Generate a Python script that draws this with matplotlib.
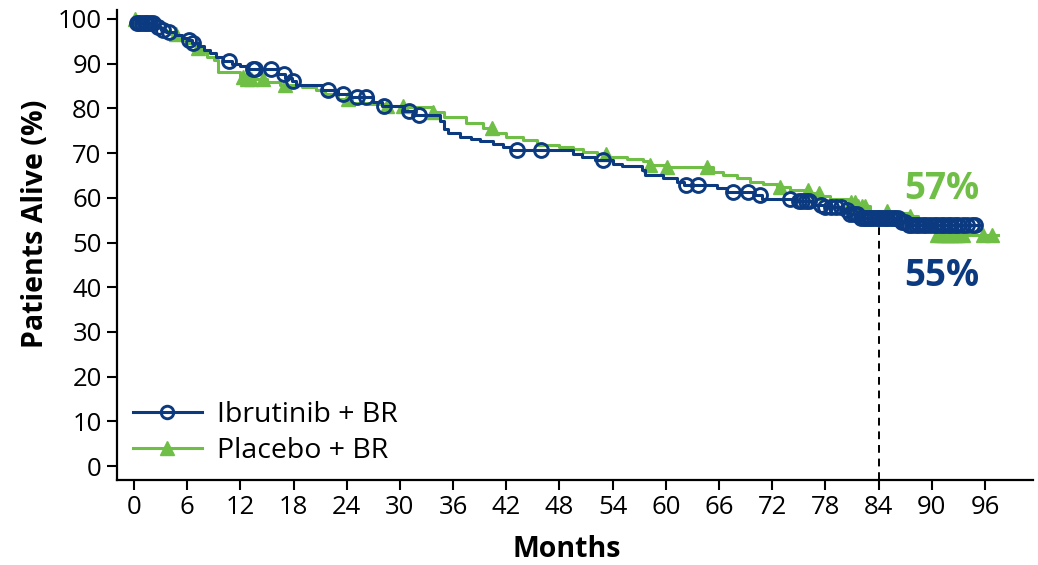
import numpy as np
import matplotlib
matplotlib.use("Agg")
import matplotlib.pyplot as plt
from matplotlib.lines import Line2D

plt.rcParams['font.family'] = ['Open Sans', 'DejaVu Sans']

BLUE = '#0b3a80'
GREEN = '#6fbe46'

# Kaplan-Meier steps: event time (months) and survival (%) after the step
ibr_time = [0, 0.3, 2.3, 3.0, 3.6, 4.6, 5.4, 6.0, 6.5, 7.2, 7.9, 8.6, 9.3, 10.0,
            11.0, 12.0, 12.8, 16.2, 17.0, 17.8, 18.3, 21.2, 23.0, 24.5, 27.0,
            28.0, 30.5, 31.6, 34.5, 35.0, 35.4, 36.8, 38.0, 39.0, 40.5, 41.6,
            42.5, 49.5, 50.5, 52.0, 54.0, 55.1, 57.3, 57.6, 59.7, 61.3, 62.0,
            65.8, 66.9, 70.0, 70.8, 74.5, 76.5, 78.0, 80.0, 80.8, 82.0, 86.5,
            87.3, 95.4]
ibr_surv = [100, 99.0, 98.3, 97.6, 97.0, 96.4, 95.8, 95.2, 94.6, 93.9, 93.1, 92.3,
            91.5, 90.6, 90.0, 89.4, 88.7, 87.8, 86.9, 86.2, 85.2, 84.1, 83.3,
            82.6, 81.5, 80.6, 79.4, 78.5, 77.2, 75.5, 74.5, 73.7, 73.2, 72.6,
            72.0, 71.3, 70.7, 69.9, 69.2, 68.5, 67.6, 67.2, 66.2, 65.2, 64.4,
            63.5, 62.9, 62.2, 61.3, 60.6, 59.8, 59.3, 58.5, 57.9, 57.2, 56.3,
            55.4, 54.6, 53.9, 53.9]

pbo_time = [0, 0.5, 1.5, 2.5, 3.3, 4.0, 4.8, 6.0, 7.0, 7.6, 8.2, 9.0, 9.5, 12.0,
            12.6, 15.0, 16.5, 19.0, 20.5, 21.5, 23.0, 24.6, 26.5, 28.5, 31.0,
            33.7, 35.0, 37.5, 39.4, 40.5, 42.0, 43.9, 45.5, 48.0, 49.5, 50.6,
            52.2, 53.5, 55.6, 57.4, 58.0, 60.0, 65.3, 66.4, 68.0, 69.5, 71.0,
            72.5, 74.0, 76.3, 77.4, 78.5, 80.8, 81.5, 83.0, 85.3, 87.5, 88.5,
            89.5, 90.5, 97.5]
pbo_surv = [100, 99.3, 98.6, 98.0, 97.3, 96.6, 95.3, 94.6, 93.4, 92.5, 91.6, 90.8,
            88.2, 87.0, 86.5, 86.0, 85.3, 84.8, 84.1, 83.2, 82.0, 81.3, 81.0,
            80.6, 80.2, 79.2, 78.0, 76.7, 75.6, 74.5, 73.6, 72.9, 71.8, 71.4,
            71.0, 70.2, 69.8, 69.2, 68.7, 68.2, 67.4, 66.8, 65.8, 65.1, 64.4,
            63.6, 63.2, 62.4, 61.7, 61.1, 60.3, 59.8, 59.0, 58.2, 57.0, 56.6,
            56.0, 54.5, 53.0, 51.8, 51.8]

# censoring times (months)
ibr_cens = [0.3, 0.6, 0.9, 1.2, 1.5, 1.8, 2.1, 2.7, 3.3, 4.0, 6.2, 6.7, 10.7,
            13.4, 13.7, 15.5, 16.9, 17.9, 21.9, 23.6, 25.2, 26.2, 28.2, 31.0,
            32.1, 43.2, 45.9, 52.9, 62.3, 63.6, 67.6, 69.3, 70.6, 74.0, 75.0,
            75.4, 75.8, 76.2, 77.5, 78.0, 78.6, 79.2, 79.8, 80.4, 80.8, 81.2,
            81.6, 82.0, 82.3, 82.6, 82.9, 83.2, 83.5, 83.8, 84.1, 84.4, 84.7,
            85.0, 85.3, 85.6, 85.9, 86.2, 86.6, 87.0, 87.4, 87.8, 88.2, 88.6,
            89.0, 89.4, 89.8, 90.2, 90.6, 91.0, 91.4, 91.8, 92.2, 92.6, 93.0,
            93.5, 94.0, 94.5, 94.9]
pbo_cens = [0.1, 4.7, 7.2, 12.3, 12.8, 13.2, 14.6, 17.0, 24.1, 28.5, 30.3, 33.7,
            40.4, 53.3, 58.2, 60.1, 64.6, 72.9, 76.0, 77.3, 80.9, 81.3, 81.7,
            82.1, 82.5, 84.9, 87.5, 90.6, 91.0, 91.4, 91.8, 92.2, 92.6, 93.0,
            93.5, 95.8, 96.8]

landmark = 84
ibr_label = '55%'
pbo_label = '57%'


def surv_at(times, surv, t):
    idx = np.searchsorted(times, t, side='right') - 1
    return np.asarray(surv)[idx]


fig = plt.figure(figsize=(10.38, 5.65), dpi=100)
ax = fig.add_axes([0.1127, 0.1504, 0.8823, 0.8319])

ax.step(pbo_time, pbo_surv, where='post', color=GREEN, lw=2.2, zorder=2)
ax.plot(pbo_cens, surv_at(pbo_time, pbo_surv, pbo_cens), ls='none', marker='^',
        ms=10, color=GREEN, mec=GREEN, zorder=2)

ax.step(ibr_time, ibr_surv, where='post', color=BLUE, lw=2.2, zorder=3)
ax.plot(ibr_cens, surv_at(ibr_time, ibr_surv, ibr_cens), ls='none', marker='o',
        ms=10, mfc='none', mec=BLUE, mew=2.1, zorder=3)

ax.plot([landmark, landmark], [-3.1, surv_at(pbo_time, pbo_surv, landmark)],
        color='black', ls=(0, (4, 3)), lw=1.4, zorder=1)

ax.text(86.9, 62.0, pbo_label, color=GREEN, fontsize=26.5, fontweight='bold',
        ha='left', va='center')
ax.text(86.9, 42.5, ibr_label, color=BLUE, fontsize=26.5, fontweight='bold',
        ha='left', va='center')

ax.set_xlim(-1.92, 101.4)
ax.set_ylim(-3.1, 102.0)
ax.set_xticks(np.arange(0, 97, 6))
ax.set_yticks(np.arange(0, 101, 10))
ax.spines['top'].set_visible(False)
ax.spines['right'].set_visible(False)
for s in ('left', 'bottom'):
    ax.spines[s].set_linewidth(1.6)
ax.tick_params(axis='both', length=7, width=1.5, labelsize=18.5, pad=4)

ax.set_xlabel('Months', fontsize=20.5, fontweight='bold')
ax.set_ylabel('Patients Alive (%)', fontsize=20.5, fontweight='bold')
ax.xaxis.set_label_coords(0.491, -0.118)
ax.yaxis.set_label_coords(-0.073, 0.545)

handles = [
    Line2D([], [], color=BLUE, lw=2.2, marker='o', ms=9, mfc='none', mec=BLUE, mew=2.1),
    Line2D([], [], color=GREEN, lw=2.2, marker='^', ms=10),
]
ax.legend(handles, ['Ibrutinib + BR', 'Placebo + BR'], loc='lower left',
          bbox_to_anchor=(0.017, 0.033), frameon=False, fontsize=20.5,
          handlelength=2.45, handletextpad=0.5, labelspacing=0.27,
          borderpad=0, borderaxespad=0)

fig.savefig('out.png', dpi=100)
